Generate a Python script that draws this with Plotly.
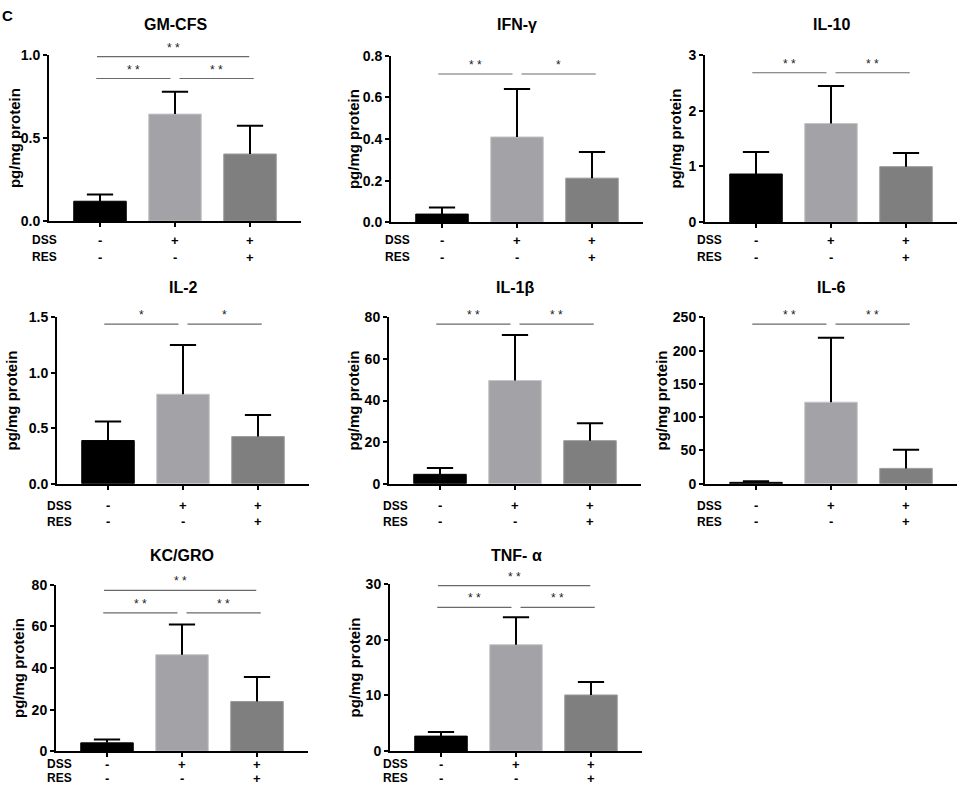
import plotly.graph_objects as go

W, H = 957, 793

panels = ["GM-CFS", "IFN-γ", "IL-10", "IL-2", "IL-1β", "IL-6", "KC/GRO", "TNF- α"]
groups = ["Control", "DSS", "DSS+RES"]
dss_row = ["-", "+", "+"]
res_row = ["-", "-", "+"]

gmcfs_mean = [0.12, 0.644, 0.404]
gmcfs_err = [0.04, 0.134, 0.17]
ifng_mean = [0.039, 0.41, 0.212]
ifng_err = [0.032, 0.231, 0.126]
il10_mean = [0.864, 1.77, 0.996]
il10_err = [0.396, 0.67, 0.244]
il2_mean = [0.389, 0.807, 0.425]
il2_err = [0.171, 0.443, 0.195]
il1b_mean = [4.5, 49.6, 20.7]
il1b_err = [3.05, 21.9, 8.4]
il6_mean = [2.0, 122.5, 23.0]
il6_err = [1.5, 96.9, 28.2]
kcgro_mean = [4.0, 46.4, 23.9]
kcgro_err = [1.6, 14.5, 11.8]
tnfa_mean = [2.7, 19.08, 10.08]
tnfa_err = [0.72, 4.92, 2.34]

means = [gmcfs_mean, ifng_mean, il10_mean, il2_mean, il1b_mean, il6_mean, kcgro_mean, tnfa_mean]
errs = [gmcfs_err, ifng_err, il10_err, il2_err, il1b_err, il6_err, kcgro_err, tnfa_err]

y_max = [1.0, 0.8, 3, 1.5, 80, 250, 80, 30]
y_step = [0.5, 0.2, 1, 0.5, 20, 50, 20, 10]
y_fmt = ["{:.1f}", "{:.1f}", "{:.0f}", "{:.1f}", "{:.0f}", "{:.0f}", "{:.0f}", "{:.0f}"]

# significance brackets: (group a, group b, level, label)
sig = [
    [(0, 1, 0.858, "* *"), (1, 2, 0.858, "* *"), (0, 2, 0.99, "* *")],
    [(0, 1, 0.713, "* *"), (1, 2, 0.713, "*")],
    [(0, 1, 2.68, "* *"), (1, 2, 2.68, "* *")],
    [(0, 1, 1.44, "*"), (1, 2, 1.44, "*")],
    [(0, 1, 76.8, "* *"), (1, 2, 76.8, "* *")],
    [(0, 1, 240, "* *"), (1, 2, 240, "* *")],
    [(0, 1, 66.5, "* *"), (1, 2, 66.5, "* *"), (0, 2, 77.4, "* *")],
    [(0, 1, 25.8, "* *"), (1, 2, 25.8, "* *"), (0, 2, 29.7, "* *")],
]

# layout geometry (target pixels)
ax_left = [49, 391, 705, 57, 389, 705, 56, 390]
ax_top = [55, 56, 55, 317, 317, 317, 584, 583]
ax_bot = [221, 222, 222, 483, 483, 483, 750, 750]
ytitle_x = [14, 353, 676, 12, 354, 662, 18, 355]
title_y = [25, 25, 25, 287, 287, 287, 555, 555]
table_x = [30, 383, 695, 45, 381, 695, 45, 381]
dss_y = [240, 240, 240, 505, 505, 505, 763, 763]
res_y = [257, 257, 257, 521, 521, 521, 777, 777]
AX_W = 252
XR = [-0.68, 2.68]
CAP = 0.175  # half cap width in category units

bar_colors = ["#000000", "#a3a2a7", "#7f7f7f"]
bar_lines = ["#000000", "#c4c4c8", "#9a9a9a"]

FONT = "Arial, Liberation Sans, sans-serif"

fig = go.Figure()
annotations = []
shapes = []
layout = dict(
    width=W, height=H, autosize=False, margin=dict(l=0, r=0, t=0, b=0, pad=0),
    paper_bgcolor="white", plot_bgcolor="white", showlegend=False,
    font=dict(family=FONT, color="black"),
)

def px2x(p):
    return p / W

def px2y(p):
    # compensate the vertical placement observed in the photographed page
    r = (p - 8.2) / 0.978
    r = max(0.0, min(r, H - 7))
    return 1 - r / H

for i in range(8):
    n = i + 1
    xa = "x" if n == 1 else f"x{n}"
    ya = "y" if n == 1 else f"y{n}"
    xkey = "xaxis" if n == 1 else f"xaxis{n}"
    ykey = "yaxis" if n == 1 else f"yaxis{n}"

    fig.add_trace(go.Bar(
        x=[0, 1, 2], y=means[i], width=0.7,
        marker=dict(color=bar_colors, line=dict(color=bar_lines, width=1)),
        xaxis=xa, yaxis=ya, hoverinfo="skip",
    ))
    # upward-only error bars (stem + cap)
    ex, ey = [], []
    for g in range(3):
        top = means[i][g] + errs[i][g]
        ex += [g, g, None, g - CAP, g + CAP, None]
        ey += [means[i][g], top, None, top, top, None]
    fig.add_trace(go.Scatter(
        x=ex, y=ey, mode="lines", line=dict(color="black", width=2),
        xaxis=xa, yaxis=ya, hoverinfo="skip", cliponaxis=False,
    ))

    tv = []
    v = 0.0
    while v <= y_max[i] + 1e-9:
        tv.append(round(v, 6))
        v += y_step[i]
    layout[xkey] = dict(
        domain=[px2x(ax_left[i]), px2x(ax_left[i] + AX_W)], anchor=ya,
        range=XR, tickvals=[0, 1, 2], showticklabels=False,
        ticks="outside", ticklen=4, tickwidth=1.5, tickcolor="black",
        showline=True, linewidth=2, linecolor="black",
        showgrid=False, zeroline=False, fixedrange=True,
    )
    layout[ykey] = dict(
        domain=[px2y(ax_bot[i]), px2y(ax_top[i])], anchor=xa,
        range=[0, y_max[i]], tickvals=tv, ticktext=[y_fmt[i].format(t) for t in tv],
        ticks="outside", ticklen=4, tickwidth=2, tickcolor="black",
        tickfont=dict(family=FONT, size=14, color="black", weight="bold"),
        showline=True, linewidth=2, linecolor="black",
        showgrid=False, zeroline=False, fixedrange=True,
    )

    # panel title
    annotations.append(dict(
        text=panels[i], x=1, xref=xa, y=px2y(title_y[i]), yref="paper",
        showarrow=False, xanchor="center", yanchor="middle",
        font=dict(family=FONT, size=16, color="black", weight="bold"),
    ))
    # y-axis title
    annotations.append(dict(
        text="pg/mg protein", x=px2x(ytitle_x[i]), xref="paper",
        y=px2y((ax_top[i] + ax_bot[i]) / 2), yref="paper",
        showarrow=False, textangle=-90, xanchor="center", yanchor="middle",
        font=dict(family=FONT, size=15, color="black", weight="bold"),
    ))
    # DSS / RES table
    for lab, row, yy in (("DSS", dss_row, dss_y[i]), ("RES", res_row, res_y[i])):
        annotations.append(dict(
            text=lab, x=px2x(table_x[i]), xref="paper", y=px2y(yy), yref="paper",
            showarrow=False, xanchor="left", yanchor="middle",
            font=dict(family=FONT, size=12, color="black", weight="bold"),
        ))
        for g in range(3):
            annotations.append(dict(
                text=row[g], x=g, xref=xa, y=px2y(yy), yref="paper",
                showarrow=False, xanchor="center", yanchor="middle",
                font=dict(family=FONT, size=13, color="black", weight="bold"),
            ))
    # significance brackets
    for (a, b, lvl, lab) in sig[i]:
        if (a, b) == (0, 2):
            x0, x1 = a - 0.04, b - 0.01
        elif a == 0:
            x0, x1 = a - 0.05, b - 0.06
        else:
            x0, x1 = a + 0.06, b + 0.05
        shapes.append(dict(
            type="line", xref=xa, yref=ya, x0=x0, x1=x1, y0=lvl, y1=lvl,
            line=dict(color="#6a6a6a", width=1.2),
        ))
        annotations.append(dict(
            text=lab, x=(x0 + x1) / 2, xref=xa, y=lvl, yref=ya,
            showarrow=False, xanchor="center", yanchor="bottom", yshift=0,
            font=dict(family=FONT, size=12, color="#222222"),
        ))

annotations.append(dict(
    text="C", x=0.0, xref="paper", y=1.0, yref="paper",
    showarrow=False, xanchor="left", yanchor="top", xshift=0, yshift=3,
    font=dict(family=FONT, size=15, color="black", weight="bold"),
))

layout["annotations"] = annotations
layout["shapes"] = shapes
fig.update_layout(**layout)

post = (
    "var s=document.createElement('style');"
    "s.innerHTML='html,body{margin:0 !important;padding:0 !important;overflow:hidden !important;}';"
    "document.head.appendChild(s);"
    "var gd=document.getElementById('{plot_id}');"
    "gd.style.position='absolute';gd.style.left='0px';gd.style.top='0px';"
)
fig.write_html("out.html", post_script=post, config={"displayModeBar": False})
